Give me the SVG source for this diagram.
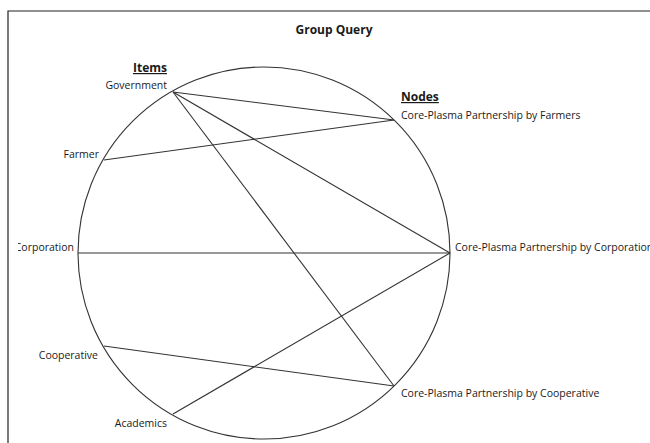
<svg xmlns="http://www.w3.org/2000/svg" width="650" height="443" viewBox="0 0 650 443">
<style>
text{font-family:"Open Sans","Noto Sans","DejaVu Sans",sans-serif;fill:#1a1a1a;font-size:10.5px}
.h{font-weight:bold;text-decoration:underline;font-size:12px}
.t{font-weight:bold;font-size:12px}
.e{stroke:#333;stroke-width:1.1;fill:none}
</style>
<defs><clipPath id="c"><rect x="18" y="0" width="632" height="443"/></clipPath></defs>
<rect width="650" height="443" fill="#fff"/>
<path d="M8 443V11H650" fill="none" stroke="#222" stroke-width="1.2"/>
<text class="t" x="334" y="34" text-anchor="middle">Group Query</text>
<circle cx="264" cy="253" r="186" fill="none" stroke="#333" stroke-width="1.1"/>
<g id="edges">
<line class="e" x1="173" y1="92" x2="394" y2="120"/>
<line class="e" x1="173" y1="92" x2="450" y2="253"/>
<line class="e" x1="173" y1="92" x2="394" y2="386"/>
<line class="e" x1="104" y1="160" x2="394" y2="120"/>
<line class="e" x1="78" y1="253" x2="450" y2="253"/>
<line class="e" x1="104" y1="346" x2="394" y2="386"/>
<line class="e" x1="173" y1="414" x2="450" y2="253"/>
</g>
<text class="h" x="167" y="72" text-anchor="end">Items</text>
<text class="h" x="401" y="101">Nodes</text>
<g id="government"><text x="167" y="89" text-anchor="end">Government</text></g>
<g id="farmer"><text x="99" y="158" text-anchor="end">Farmer</text></g>
<g id="corporation" clip-path="url(#c)"><text x="74" y="251" text-anchor="end">Corporation</text></g>
<g id="cooperative"><text x="98" y="359" text-anchor="end">Cooperative</text></g>
<g id="academics"><text x="167" y="427" text-anchor="end">Academics</text></g>
<g id="cp-farmers"><text x="401" y="119">Core-Plasma Partnership by Farmers</text></g>
<g id="cp-corporation"><text x="455" y="251">Core-Plasma Partnership by Corporation</text></g>
<g id="cp-cooperative"><text x="401" y="397">Core-Plasma Partnership by Cooperative</text></g>
</svg>
